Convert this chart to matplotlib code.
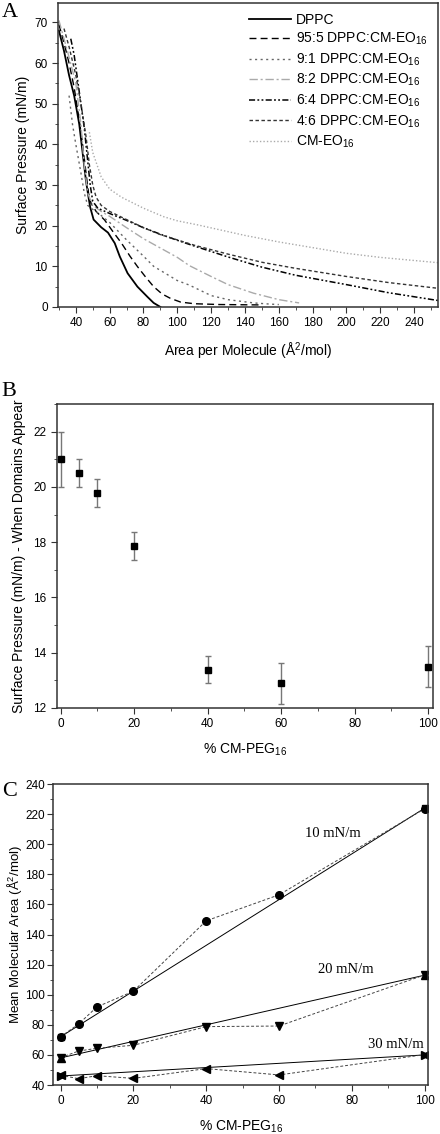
import matplotlib.pyplot as plt
from matplotlib.ticker import MultipleLocator

plt.rcParams['font.family'] = ['Liberation Sans', 'DejaVu Sans']
plt.rcParams['mathtext.fontset'] = 'custom'
plt.rcParams['mathtext.rm'] = 'Liberation Sans'
plt.rcParams['mathtext.it'] = 'Liberation Sans:italic'

# --- Panel A: isotherms (area, pressure) ---
dppc_x = [30, 33, 36, 39, 42, 44, 46, 47.5, 48.5, 50.5, 55, 59, 63, 66, 70.6, 76.4, 82.3, 86, 90]
dppc_y = [68, 63, 57, 52, 45, 38, 31, 27, 24.5, 21.5, 19.6, 18.3, 15.7, 12.4, 8.3, 5, 2.5, 1, 0]

m955_x = [30, 33, 36, 39, 42, 44, 46, 47.5, 49, 52, 57, 62, 67, 72, 76.5, 81, 86, 91, 96, 102, 110, 125, 150]
m955_y = [69.5, 65, 60, 54, 46, 40, 33, 28, 25.5, 23.5, 21.4, 18.5, 15.7, 12.5, 9.9, 7.5, 5, 3.2, 2.1, 1.2, 0.8, 0.6, 0.5]

m91_x = [36, 38, 40, 43, 45, 47, 50, 55, 60, 70, 80, 86, 100, 107, 120, 130, 145, 155, 160]
m91_y = [52, 45, 40, 33, 28, 25, 24, 22.5, 20.8, 16.5, 12.5, 10, 6.5, 5.4, 2.8, 1.8, 1.0, 0.7, 0.6]

m82_x = [30, 35, 40, 43, 45, 47, 50, 55, 60, 70, 80, 90, 100, 107, 120, 130, 145, 160, 172]
m82_y = [70.5, 63, 55, 45, 35, 28, 25, 23.5, 22.3, 19.5, 16.8, 14.5, 12.2, 10.2, 7.5, 5.5, 3.4, 1.8, 1.0]

m64_x = [37, 39, 41, 43, 45, 47, 48.5, 50, 53, 60, 70, 80, 90, 100, 110, 130, 150, 170, 200, 225, 254]
m64_y = [66, 62, 56, 50, 44, 36, 30, 26, 24.3, 23, 21.3, 19.5, 17.9, 16.4, 15, 12.3, 9.8, 7.8, 5.5, 3.5, 1.6]

m46_x = [33, 36, 40, 43, 46, 48, 50, 52, 55, 60, 70, 80, 90, 100, 110, 130, 150, 170, 200, 225, 254]
m46_y = [68.5, 64, 57, 50, 42, 35, 30, 27, 25, 23.5, 21.5, 19.5, 17.8, 16.5, 15.2, 13, 11, 9.5, 7.5, 6, 4.6]

cmeo_x = [48, 50, 55, 60, 67, 80, 92, 100, 112, 140, 160, 180, 200, 220, 254]
cmeo_y = [43, 38, 32, 29, 27, 24.3, 22.2, 21.2, 20.2, 17.6, 16, 14.6, 13.2, 12.2, 10.9]

# --- Panel B: pressure when domains appear ---
b_pct = [0, 5, 10, 20, 40, 60, 100]
b_pres = [21.0, 20.5, 19.78, 17.86, 13.39, 12.89, 13.5]
b_err = [1.0, 0.5, 0.5, 0.5, 0.5, 0.75, 0.75]

# --- Panel C: mean molecular area ---
c_pct = [0, 5, 10, 20, 40, 60, 100]
c_10 = [72, 80.6, 91.9, 102.3, 149.1, 166.4, 223.6]
c_20 = [58.2, 62.6, 64.4, 66.4, 78.8, 79.2, 113.2]
c_30 = [46.5, 44.2, 46.2, 44.4, 50.9, 46.7, 60.2]
ideal_pct = [0, 100]
ideal_10 = [72, 224]
ideal_20 = [58, 113]
ideal_30 = [46, 60]

fig = plt.figure(figsize=(4.4, 11.34), dpi=100)
spine_col = '#333333'


def style(ax):
    for s in ax.spines.values():
        s.set_color(spine_col)
        s.set_linewidth(1.1)
    ax.tick_params(which='both', direction='out', top=False, right=False,
                   color=spine_col, labelsize=8.5)
    ax.tick_params(which='major', length=4)
    ax.tick_params(which='minor', length=2.5)


# Panel A
axA = fig.add_axes([0.132, 0.7293, 0.863, 0.2681])
axA.plot(dppc_x, dppc_y, color='black', lw=1.3, ls='-', label='DPPC')
axA.plot(m955_x, m955_y, color='black', lw=1.0, ls=(0, (5, 3)), label='95:5 DPPC:CM-EO$_{16}$')
axA.plot(m91_x, m91_y, color='#666666', lw=1.0, ls=(0, (1.5, 2.5)), label='9:1 DPPC:CM-EO$_{16}$')
axA.plot(m82_x, m82_y, color='#aaaaaa', lw=1.0, ls=(0, (6, 2, 1.5, 2)), label='8:2 DPPC:CM-EO$_{16}$')
axA.plot(m64_x, m64_y, color='black', lw=1.1, ls=(0, (4, 1.5, 1.2, 1.5, 1.2, 1.5)), label='6:4 DPPC:CM-EO$_{16}$')
axA.plot(m46_x, m46_y, color='#333333', lw=1.0, ls=(0, (2.5, 1.8)), label='4:6 DPPC:CM-EO$_{16}$')
axA.plot(cmeo_x, cmeo_y, color='#aaaaaa', lw=1.0, ls=(0, (1, 1.5)), label='CM-EO$_{16}$')
axA.set_xlim(29.5, 254)
axA.set_ylim(0, 74.8)
axA.xaxis.set_minor_locator(MultipleLocator(10))
axA.yaxis.set_major_locator(MultipleLocator(10))
axA.yaxis.set_minor_locator(MultipleLocator(5))
axA.set_xticks([40, 60, 80, 100, 120, 140, 160, 180, 200, 220, 240])
axA.set_xlabel('Area per Molecule (Å$^2$/mol)', fontsize=10, labelpad=8)
axA.set_ylabel('Surface Pressure (mN/m)', fontsize=10, labelpad=3)
style(axA)
axA.legend(loc='upper right', frameon=False, fontsize=10, handlelength=3.0,
           handletextpad=0.4, labelspacing=0.3, borderaxespad=0.3)

# Panel B
axB = fig.add_axes([0.1295, 0.3757, 0.8545, 0.268])
axB.errorbar(b_pct, b_pres, yerr=b_err, fmt='s', color='black', ms=4.5,
             ecolor='#777777', elinewidth=1.0, capsize=2.5, capthick=1.0)
axB.set_xlim(-1, 101.3)
axB.set_ylim(12, 23)
axB.xaxis.set_major_locator(MultipleLocator(20))
axB.xaxis.set_minor_locator(MultipleLocator(10))
axB.yaxis.set_major_locator(MultipleLocator(2))
axB.yaxis.set_minor_locator(MultipleLocator(1))
axB.set_xlabel('% CM-PEG$_{16}$', fontsize=10, labelpad=8)
axB.set_ylabel('Surface Pressure (mN/m) - When Domains Appear', fontsize=10, labelpad=5)
style(axB)

# Panel C
axC = fig.add_axes([0.121, 0.0432, 0.8525, 0.2654])
dash = (0, (3, 2))
axC.plot(ideal_pct, ideal_10, color='black', lw=0.7, marker='s', ms=5)
axC.plot(ideal_pct, ideal_20, color='black', lw=0.7, marker='^', ms=6)
axC.plot(ideal_pct, ideal_30, color='black', lw=0.7, marker='>', ms=6)
axC.plot(c_pct, c_10, color='#444444', lw=0.7, ls=dash, marker='o', ms=5.5, mfc='black', mec='black')
axC.plot(c_pct, c_20, color='#444444', lw=0.7, ls=dash, marker='v', ms=6, mfc='black', mec='black')
axC.plot(c_pct, c_30, color='#444444', lw=0.7, ls=dash, marker='<', ms=6, mfc='black', mec='black')
axC.text(67, 207, '10 mN/m', family='Liberation Serif', fontsize=10.5, va='center')
axC.text(70.6, 117, '20 mN/m', family='Liberation Serif', fontsize=10.5, va='center')
axC.text(84.3, 67, '30 mN/m', family='Liberation Serif', fontsize=10.5, va='center')
axC.set_xlim(-2, 101)
axC.set_ylim(40, 240)
axC.xaxis.set_major_locator(MultipleLocator(20))
axC.xaxis.set_minor_locator(MultipleLocator(10))
axC.yaxis.set_major_locator(MultipleLocator(20))
axC.yaxis.set_minor_locator(MultipleLocator(10))
axC.set_xlabel('% CM-PEG$_{16}$', fontsize=10, labelpad=8)
axC.set_ylabel('Mean Molecular Area (Å$^{2}$/mol)', fontsize=9.5, labelpad=1)
style(axC)
axC.tick_params(axis='y', pad=2)

for lab, ypx in [('A', 3), ('B', 382), ('C', 782)]:
    fig.text(0.004, 1 - ypx / 1134, lab, family='Liberation Serif', fontsize=16,
             va='top', ha='left')

fig.savefig('out.png', dpi=100)
